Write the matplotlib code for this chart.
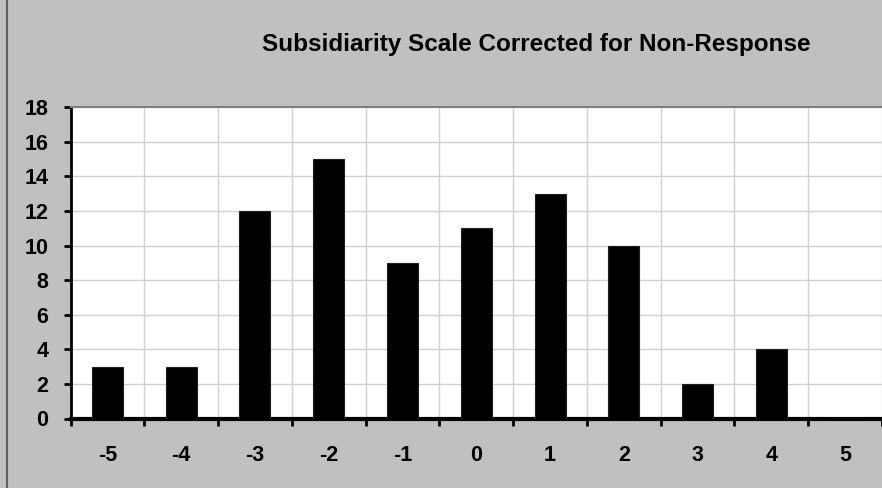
import matplotlib.pyplot as plt
import numpy as np

plt.rcParams['font.family'] = ['Liberation Sans', 'DejaVu Sans']

categories = ['-5', '-4', '-3', '-2', '-1', '0', '1', '2', '3', '4', '5']
counts = [3, 3, 12, 15, 9, 11, 13, 10, 2, 4, 0]
yticks = [0, 2, 4, 6, 8, 10, 12, 14, 16, 18]

W, H = 882, 488
fig = plt.figure(figsize=(W / 100, H / 100), dpi=100, facecolor='#c0c0c0')
ax = fig.add_axes([70.5 / W, 1 - 418.5 / H, (882 - 70.5) / W, (418.5 - 107.3) / H])
ax.set_facecolor('white')

x = np.arange(len(categories))
ax.bar(x, counts, width=0.42, color='black', edgecolor='#202020', linewidth=0.8, zorder=3)

ax.set_xlim(-0.5, len(categories) - 0.5)
ax.set_ylim(0, 18)
ax.set_yticks(yticks)
ax.set_yticklabels([str(v) for v in yticks], fontsize=15.5, fontweight='bold')
ax.set_xticks(x)
ax.set_xticklabels(categories, fontsize=15.5, fontweight='bold')
ax.tick_params(axis='x', length=0, pad=19)
ax.set_xticks(np.arange(len(categories) + 1) - 0.5, minor=True)
ax.tick_params(axis='x', which='minor', length=5, width=2, direction='out')
ax.tick_params(axis='y', length=5, width=2, direction='out', pad=11)

ax.grid(True, axis='y', color='#d0d0d0', linewidth=1, zorder=0)
ax.grid(True, axis='x', which='minor', color='#d0d0d0', linewidth=1, zorder=0)

ax.spines['left'].set_linewidth(2)
ax.spines['bottom'].set_linewidth(3)
ax.spines['top'].set_color('#808080')
ax.spines['top'].set_linewidth(1.5)
ax.spines['right'].set_visible(False)

fig.text(536 / W, 1 - 45 / H, 'Subsidiarity Scale Corrected for Non-Response',
         ha='center', va='center', fontsize=17.5, fontweight='bold')

fig.add_artist(plt.Line2D([7 / W, 7 / W], [0, 1], color='#606060', linewidth=1.5))

fig.savefig('out.png', dpi=100, facecolor=fig.get_facecolor())
